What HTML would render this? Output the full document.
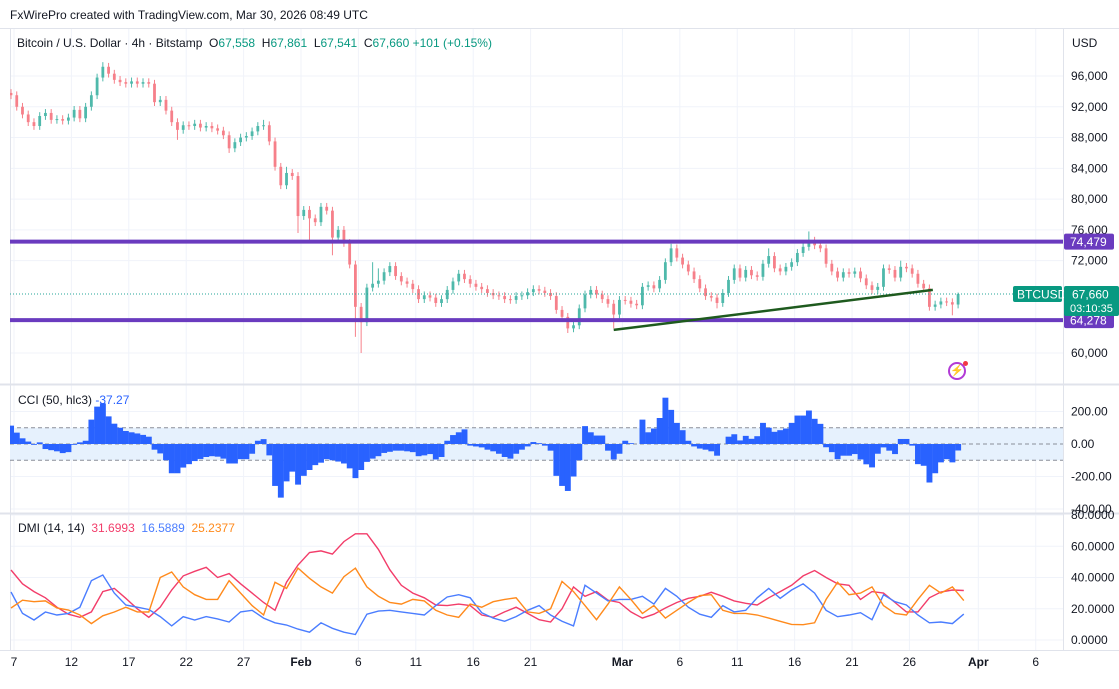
<!DOCTYPE html>
<html><head><meta charset="utf-8">
<style>
html,body{margin:0;padding:0;background:#fff;}
body{width:1119px;height:684px;overflow:hidden;font-family:"Liberation Sans",sans-serif;}
svg text{font-family:"Liberation Sans",sans-serif;}
</style></head>
<body>
<svg id="chart" width="1119" height="684" viewBox="0 0 1119 684" xmlns="http://www.w3.org/2000/svg">
<rect x="0" y="0" width="1119" height="684" fill="#fff"/>
<text x="10" y="19" font-size="12" fill="#131722">FxWirePro created with TradingView.com, Mar 30, 2026 08:49 UTC</text>
<line x1="0" y1="28.5" x2="1119" y2="28.5" stroke="#e0e3eb"/>
<g id="grid"></g>
<g id="cciBand"></g>
<g id="candles" clip-path="url(#mainClip)"></g>
<g id="cci" clip-path="url(#cciClip)"></g>
<g id="dmi" clip-path="url(#dmiClip)"></g>
<g id="overlay"></g>
<g id="axes"></g>
<defs>
<clipPath id="mainClip"><rect x="10" y="29" width="1053" height="354"/></clipPath>
<clipPath id="cciClip"><rect x="10" y="386" width="1053" height="126"/></clipPath>
<clipPath id="dmiClip"><rect x="10" y="515" width="1053" height="134"/></clipPath>
</defs>
</svg>
<script>
// ---- data ----
const closes=[93.5,92.0,91.0,90.0,89.5,90.8,91.2,90.3,90.4,90.2,90.6,91.6,90.5,92.0,93.5,95.8,97.2,96.3,95.5,95.2,95.0,95.3,95.0,95.2,95.0,92.6,92.9,91.5,90.0,89.0,89.6,89.5,89.8,89.3,89.5,89.2,88.9,88.3,86.6,87.4,88.0,88.2,88.8,89.5,89.6,87.5,84.2,81.8,83.4,83.0,77.8,78.6,77.5,77.0,79.0,78.5,75.0,76.0,74.3,71.5,66.0,64.0,68.5,69.0,69.4,70.5,71.3,70.0,69.3,69.0,68.3,67.0,67.5,67.2,66.5,67.0,68.2,69.3,70.3,69.6,69.0,68.6,68.3,67.8,67.5,67.4,67.0,66.9,67.4,67.5,67.9,68.3,68.1,67.8,67.4,65.6,64.7,63.2,63.6,65.8,67.6,68.2,67.6,67.0,66.4,65.0,66.9,66.8,66.4,66.2,68.6,68.8,68.4,69.5,71.8,73.6,72.4,71.5,70.6,69.6,68.4,67.4,67.2,66.5,67.8,69.5,71.0,69.8,70.8,70.1,69.9,71.6,72.6,71.0,70.6,71.2,71.8,73.0,73.8,74.6,74.0,73.6,71.6,70.6,69.8,70.5,70.3,70.6,69.7,68.8,68.2,68.6,71.0,70.8,69.8,71.2,71.0,70.3,69.0,68.4,66.0,66.3,66.7,66.6,66.3,67.66];
const opens=[93.8].concat(closes.slice(0,-1));
const highs=[94.3,94.0,92.5,91.5,90.5,91.3,91.7,91.7,90.9,90.9,91.1,92.1,92.1,92.5,94.0,96.3,97.8,97.7,96.8,96.0,95.7,95.8,95.8,95.7,95.7,95.5,93.4,93.4,92.0,90.5,90.1,90.1,90.3,90.3,90.0,90.0,89.7,89.4,88.8,87.9,88.5,88.7,89.3,90.0,90.3,90.1,88.0,84.7,84.2,83.9,83.5,79.1,79.1,78.0,79.5,79.5,79.0,76.5,76.5,74.8,72.0,66.5,69.0,71.8,71.0,71.0,71.8,71.8,70.5,69.8,69.5,68.8,68.0,68.0,67.7,67.5,68.7,69.8,70.8,70.8,70.1,69.5,69.1,68.8,68.3,68.0,67.9,67.5,67.9,68.0,68.4,68.8,68.8,68.6,68.3,67.9,66.1,65.2,64.1,66.3,68.1,68.7,68.7,68.1,67.5,66.9,67.4,67.4,67.3,66.9,69.1,69.3,69.3,70.0,72.3,74.2,74.1,72.9,72.0,71.1,70.1,68.9,67.9,67.7,68.3,70.0,71.5,71.5,71.3,71.3,70.6,72.1,73.6,73.1,71.5,71.7,72.3,73.5,74.3,75.8,75.1,74.5,74.1,72.1,71.1,71.0,71.0,71.1,71.1,70.2,69.3,69.1,71.5,71.5,71.3,72.0,71.7,71.5,70.8,69.5,68.9,66.8,67.2,67.2,67.1,67.86];
const lows=[93.0,91.5,90.5,89.5,89.0,89.0,90.3,89.8,89.8,89.7,89.7,90.1,90.0,90.0,91.5,93.0,95.3,95.8,95.0,94.7,94.5,94.5,94.5,94.5,94.5,92.1,92.1,91.0,89.5,87.7,88.5,89.0,89.0,88.8,88.8,88.7,88.4,87.8,86.0,86.1,86.9,87.5,87.7,88.3,89.0,87.0,83.7,81.3,81.3,82.5,75.6,77.3,74.5,76.5,76.5,78.0,72.7,74.5,73.8,71.0,62.1,60.0,63.5,68.0,68.5,68.9,70.0,69.5,68.8,68.5,67.8,66.5,66.5,66.7,66.0,66.0,66.5,67.7,68.8,69.1,68.5,68.1,67.8,67.3,67.0,66.9,66.5,66.4,66.4,66.9,67.0,67.4,67.6,67.3,66.9,65.1,64.2,62.6,62.7,63.1,65.3,67.1,67.1,66.5,65.9,63.2,64.5,66.3,65.9,65.7,65.7,68.1,67.9,67.9,69.0,71.3,71.9,71.0,70.1,69.1,67.9,66.9,66.7,65.8,66.0,67.3,69.0,69.3,69.3,69.6,69.4,69.4,71.1,70.5,70.1,70.1,70.7,71.3,72.5,73.3,73.5,73.1,71.1,70.1,69.3,69.3,69.8,69.8,69.2,68.3,67.7,67.7,68.1,70.3,69.3,69.3,70.5,69.8,68.5,67.9,65.5,65.5,65.8,66.1,64.9,65.8];
const cciValues=[113,70,35,15,-5,10,-31,-38,-45,-56,-50,-5,10,20,150,230,250,170,125,100,80,72,65,56,45,-35,-58,-100,-180,-180,-145,-124,-105,-92,-80,-75,-78,-90,-120,-120,-93,-93,-60,20,30,-70,-258,-330,-230,-170,-250,-196,-160,-130,-115,-93,-100,-108,-120,-150,-210,-160,-110,-90,-75,-55,-48,-41,-41,-45,-50,-75,-70,-62,-95,-80,20,55,72,90,-10,-15,-21,-35,-45,-60,-80,-90,-60,-35,-15,12,5,-10,-41,-196,-258,-289,-200,-100,110,72,52,52,-41,-95,-60,20,5,0,150,72,95,160,285,210,130,85,20,-15,-28,-35,-45,-72,0,45,60,22,50,32,48,130,100,75,85,95,130,175,175,206,155,124,-20,-50,-93,-72,-72,-62,-95,-125,-144,-60,-21,-41,-62,31,31,-10,-124,-134,-237,-180,-113,-93,-113,-40];
const dmiPlus=[44.8,36,31,27,21,16.5,14.5,18,31,33,26.7,20,14.5,21,32,41,44,46.5,40,42.5,36,30,24,19,37,48,56,57,55,63,68,68,58,45,35,30,27,22.4,22,23,22,16,14.5,18,21,17,13,11.5,20,34,28,31,25.5,24,18,14,16.5,20.5,24,26.7,28,30.5,28,25,23.5,22.4,27,31,35,41,44.5,40,36,35,26,31,30,24,18,18,27,30.7,32,31.7];
const dmiMinus=[30.7,17,12.8,17.9,16,17,21,38,41.6,30,22.4,21,19.5,15,9,14.9,12.8,15,13.5,11.5,18,19,14,11,9.6,7,5,11,7.5,5,3.5,16.5,18.5,19,18,17,16,22,27.5,29,27,17.5,14,12,15,19,22,16,12,9,35,30,25,26,26,28,23,33,28,21,16.5,14.5,22,18,19,27,33,26.7,32,36,30,19,14.9,16,17.5,13,29,24.5,22.4,16,11,11.5,10.5,16.6];
const adxValues=[20.5,25.5,24.5,25,20.5,19.2,16,10.5,15.5,17.9,21,18,17.9,40,43.5,34,29,26,26,38,30,22,16,37,33,46,39.5,34,30,40.5,46,34,28,24,23,26,25,19,16,14.5,23,21,24.5,26,27,18,17,20,37.5,31,22,13,23,34,26,17,22,14,19,24,28.5,29,19,17,17,16,14,12,10,9.8,11,26,37,29,30,34,22,17,16,26,35,30,34,25.2];
const priceTicks=[60,72,76,80,84,88,92,96];
const cciTicks=[200,0,-200,-400];
const dmiTicks=[80,60,40,20,0];
const dateLabels=["7","12","17","22","27","Feb","6","11","16","21","Mar","6","11","16","21","26","Apr","6"];
const dateDays=[0,5,10,15,20,25,30,35,40,45,53,58,63,68,73,78,84,89];
const levelValues=[74.479,64.278];
const trendStart=[105,63.0], trendEnd=[160.6,68.2];
const lastPrice=67.66;

// ---- scales ----
const NS="http://www.w3.org/2000/svg";
const priceY=p=>353-(p-60)*7.6944;
const cciY=v=>444-v*0.1625;
const dmiY=v=>640-v*1.5625;
const candleX=i=>11+5.74*i;
const dmiX=d=>11+11.48*d;
const dayX=d=>14+11.48*d;
function mk(tag,attrs,parent,txt){const e=document.createElementNS(NS,tag);for(const k in attrs)e.setAttribute(k,attrs[k]);if(txt!==undefined)e.textContent=txt;parent.appendChild(e);return e;}
const $=id=>document.getElementById(id);

// grid
const grid=$('grid');
dateDays.forEach(d=>{mk('line',{x1:dayX(d),x2:dayX(d),y1:29,y2:650,stroke:'#f0f3fa'},grid);});
priceTicks.forEach(p=>{mk('line',{x1:10,x2:1063,y1:priceY(p),y2:priceY(p),stroke:'#f0f3fa'},grid);});
cciTicks.forEach(v=>{mk('line',{x1:10,x2:1063,y1:cciY(v),y2:cciY(v),stroke:'#f0f3fa'},grid);});
dmiTicks.forEach(v=>{mk('line',{x1:10,x2:1063,y1:dmiY(v),y2:dmiY(v),stroke:'#f0f3fa'},grid);});
mk('line',{x1:0,x2:1119,y1:384.5,y2:384.5,stroke:'#e0e3eb',"stroke-width":2},grid);
mk('line',{x1:0,x2:1119,y1:513.5,y2:513.5,stroke:'#e0e3eb',"stroke-width":2},grid);
mk('line',{x1:1063.5,x2:1063.5,y1:29,y2:650,stroke:'#e0e3eb'},grid);
mk('line',{x1:0,x2:1119,y1:650.5,y2:650.5,stroke:'#e0e3eb'},grid);
mk('line',{x1:10.5,x2:10.5,y1:29,y2:650,stroke:'#e0e3eb'},grid);

// cci band
const band=$('cciBand');
mk('rect',{x:10,y:cciY(100),width:1053,height:cciY(-100)-cciY(100),fill:'#e6f1fd'},band);
[100,0,-100].forEach(v=>{mk('line',{x1:10,x2:1063,y1:cciY(v),y2:cciY(v),stroke:'#8a8e99',"stroke-dasharray":'4 3'},band);});

// candles
const cg=$('candles');
closes.forEach((c,i)=>{
  const o=opens[i],x=candleX(i),up=c>=o,col=up?'#4fb9ab':'#f6808a';
  const w=mk('line',{x1:x,x2:x,y1:priceY(highs[i]),y2:priceY(lows[i]),stroke:col,"stroke-width":1},cg);
  
  
  const top=priceY(Math.max(o,c)),bot=priceY(Math.min(o,c));
  const b=mk('rect',{x:x-1.4,y:top,width:2.8,height:Math.max(1,bot-top),fill:col},cg);
  
  
});

// cci bars
const cc=$('cci');
cciValues.forEach((v,i)=>{
  const x=candleX(i),y0=cciY(0),y1=cciY(v);
  const r=mk('rect',{x:x-2.9,y:Math.min(y0,y1),width:5.9,height:Math.abs(y1-y0),fill:'#2962ff'},cc);
  
  
});

// dmi lines
const dg=$('dmi');
[[dmiPlus,'#f23d6a','dmi-plus-line'],[dmiMinus,'#4a7dff','dmi-minus-line'],[adxValues,'#ff8a1c','adx-line']].forEach(([arr,col,nm])=>{
  const pts=arr.map((v,d)=>dmiX(d).toFixed(1)+','+dmiY(v).toFixed(1)).join(' ');
  const pl=mk('polyline',{points:pts,fill:'none',stroke:col,"stroke-width":1.4},dg);
  
  
});

// overlay
const ov=$('overlay');
const lp=mk('line',{x1:10,x2:1063,y1:priceY(lastPrice),y2:priceY(lastPrice),stroke:'#26a69a',"stroke-dasharray":'1 2'},ov);


levelValues.forEach(v=>{
  const l=mk('line',{x1:10,x2:1063,y1:priceY(v),y2:priceY(v),stroke:'#6a3bbf',"stroke-width":4},ov);
  
  
});
const tl=mk('line',{x1:candleX(trendStart[0]),y1:priceY(trendStart[1]),x2:candleX(trendEnd[0]),y2:priceY(trendEnd[1]),stroke:'#1e5a1e',"stroke-width":2.5},ov);



// axes
const ax=$('axes');
priceTicks.forEach(p=>{
  if(p===60||p>=72){const t=mk('text',{x:1071,y:priceY(p)+4,"font-size":12,fill:'#131722'},ax,(p*1000).toLocaleString('en-US'));
  }
});
cciTicks.forEach(v=>{const t=mk('text',{x:1071,y:cciY(v)+4,"font-size":12,fill:'#131722'},ax,v.toFixed(2));
  });
dmiTicks.forEach(v=>{const t=mk('text',{x:1071,y:dmiY(v)+4,"font-size":12,fill:'#131722'},ax,v.toFixed(4));
  });
dateLabels.forEach((s,k)=>{const bold=/[A-Z]/.test(s);
  const t=mk('text',{x:dayX(dateDays[k]),y:666,"font-size":12,fill:'#131722',"text-anchor":'middle',"font-weight":bold?'bold':'normal'},ax,s);
  });
// level labels
levelValues.forEach(v=>{const y=priceY(v);
  mk('rect',{x:1064,y:y-8,width:50,height:16,rx:2,fill:'#6a3bbf'},ax);
  const t=mk('text',{x:1070,y:y+4.5,"font-size":12,fill:'#fff'},ax,Math.round(v*1000).toLocaleString('en-US'));
  });
// last price label
const ly=priceY(lastPrice);
mk('rect',{x:1013,y:ly-8,width:49,height:16,rx:2,fill:'#089981'},ax);
mk('text',{x:1017,y:ly+4.5,"font-size":12,fill:'#fff'},ax,'BTCUSD');
mk('rect',{x:1064,y:ly-8,width:55,height:30,rx:2,fill:'#089981'},ax);
const lt=mk('text',{x:1072,y:ly+4.5,"font-size":12,fill:'#fff'},ax,'67,660');

mk('text',{x:1070,y:ly+18,"font-size":11,fill:'#fff'},ax,'03:10:35');
</script>
<div style="position:absolute;left:1072px;top:36px;font-size:12px;color:#131722;">USD</div>
<div style="position:absolute;left:17px;top:36px;font-size:12px;color:#131722;white-space:nowrap;">Bitcoin / U.S. Dollar · 4h · Bitstamp&nbsp; O<span style="color:#089981">67,558</span>&nbsp; H<span style="color:#089981">67,861</span>&nbsp; L<span style="color:#089981">67,541</span>&nbsp; C<span style="color:#089981">67,660 +101 (+0.15%)</span></div>
<div style="position:absolute;left:18px;top:393px;font-size:12px;color:#131722;white-space:nowrap;">CCI (50, hlc3) <span style="color:#2962ff">-37.27</span></div>
<div style="position:absolute;left:18px;top:521px;font-size:12px;color:#131722;white-space:nowrap;">DMI (14, 14)&nbsp; <span style="color:#f23d6a">31.6993</span>&nbsp; <span style="color:#4a7dff">16.5889</span>&nbsp; <span style="color:#ff8a1c">25.2377</span></div>
<div style="position:absolute;left:948px;top:362px;width:18px;height:18px;border-radius:50%;border:2px solid #b23bd6;box-sizing:border-box;color:#b23bd6;font-size:11px;line-height:14px;text-align:center;">⚡</div>
<div style="position:absolute;left:963px;top:361px;width:5px;height:5px;border-radius:50%;background:#f23645;"></div>
</body></html>
